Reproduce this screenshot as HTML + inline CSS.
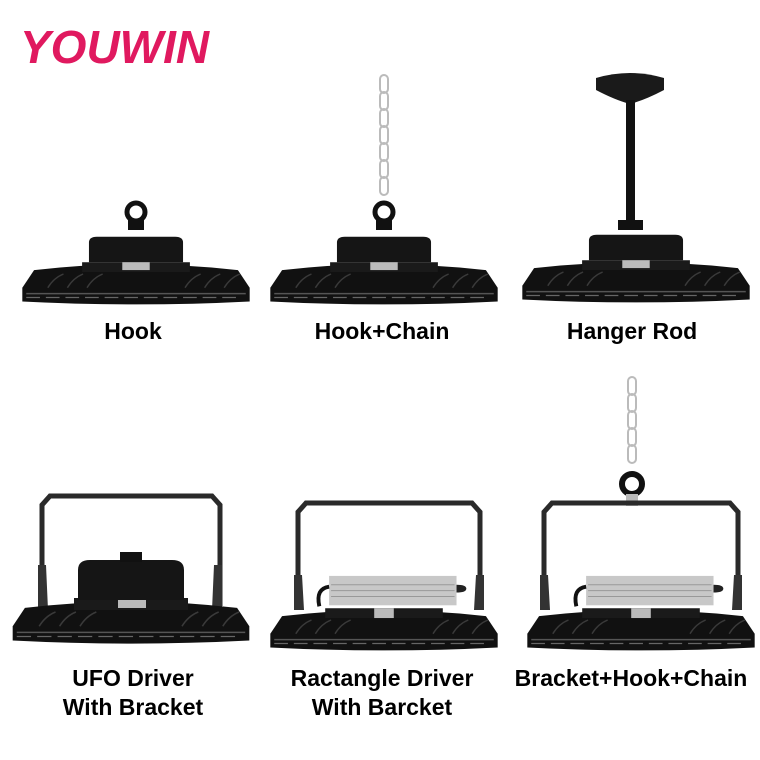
<!DOCTYPE html>
<html><head><meta charset="utf-8"><style>
body{margin:0;background:#fff}
svg{display:block}
text{font-family:"Liberation Sans",sans-serif;font-weight:bold}
</style></head><body>
<svg width="760" height="760" viewBox="0 0 760 760">
<defs>
<g id="disc">
  <path d="M-104,-4 Q0,-16 104,-4 L116,14 L116,28 Q0,34 -116,28 L-116,14 Z" fill="#111"/>
  <path d="M-112,20 L112,20" stroke="#555" stroke-width="1.5"/>
  <g stroke="#666" stroke-width="1.2">
    <path d="M-112,24 h14 M-92,24 h14 M-72,24 h14 M-52,24 h14 M-32,24 h14 M-12,24 h14 M8,24 h14 M28,24 h14 M48,24 h14 M68,24 h14 M88,24 h14"/>
  </g>
  <g stroke="#3a3a3a" stroke-width="1.5" fill="none">
    <path d="M-90,14 q6,-10 16,-14 M-70,14 q6,-10 16,-14 M-50,14 q6,-10 16,-14 M50,14 q6,-10 16,-14 M70,14 q6,-10 16,-14 M90,14 q6,-10 16,-14"/>
  </g>
</g>
<g id="lamp">
  <use href="#disc"/>
  <rect x="-55" y="-12" width="110" height="10" fill="#1a1a1a"/>
  <path d="M-48,-12 L-48,-32 Q-48,-38 -40,-38 L40,-38 Q48,-38 48,-32 L48,-12 Z" fill="#151515"/>
  <rect x="-14" y="-12" width="28" height="8" fill="#bbb"/>
</g>
<g id="rdrv">
  <use href="#disc"/>
  <rect x="-60" y="-12" width="120" height="10" fill="#1a1a1a"/>
  <rect x="-10" y="-12" width="20" height="10" fill="#bbb"/>
  <rect x="-56" y="-45" width="130" height="30" fill="#c8c8c8"/>
  <path d="M-54,-36 h126 M-54,-30 h126 M-54,-24 h126" stroke="#999" stroke-width="1"/>
  <path d="M-66,-14 Q-70,-32 -56,-34" fill="none" stroke="#111" stroke-width="4"/>
  <path d="M74,-36 q10,0 10,4 q0,4 -10,4" fill="#222"/>
</g>
</defs>

<text x="20" y="63" font-size="46" font-style="italic" fill="#e0195f">YOUWIN</text>

<circle cx="136" cy="212" r="9" fill="none" stroke="#111" stroke-width="5"/>
<rect x="128" y="220" width="16" height="10" fill="#111"/>
<use href="#lamp" transform="translate(136,274) scale(0.98)"/>

<g fill="none" stroke="#bbb" stroke-width="2">
  <rect x="380" y="75" width="8" height="18" rx="4"/><rect x="380" y="92" width="8" height="18" rx="4"/>
  <rect x="380" y="109" width="8" height="18" rx="4"/><rect x="380" y="126" width="8" height="18" rx="4"/>
  <rect x="380" y="143" width="8" height="18" rx="4"/><rect x="380" y="160" width="8" height="18" rx="4"/>
  <rect x="380" y="177" width="8" height="18" rx="4"/>
</g>
<circle cx="384" cy="212" r="9" fill="none" stroke="#111" stroke-width="5"/>
<rect x="376" y="220" width="16" height="10" fill="#111"/>
<use href="#lamp" transform="translate(384,274) scale(0.98)"/>

<path d="M596,78 Q630,68 664,78 L664,90 Q645,100 630,104 Q615,100 596,90 Z" fill="#1a1a1a"/>
<rect x="626" y="100" width="9" height="124" fill="#111"/>
<rect x="618" y="220" width="25" height="10" fill="#111"/>
<use href="#lamp" transform="translate(636,272) scale(0.98)"/>

<text x="133" y="339" font-size="23" text-anchor="middle">Hook</text>
<text x="382" y="339" font-size="23" text-anchor="middle">Hook+Chain</text>
<text x="632" y="339" font-size="23" text-anchor="middle">Hanger Rod</text>

<path d="M42,606 L42,505 L50,496 L212,496 L220,505 L220,606" fill="none" stroke="#2a2a2a" stroke-width="5"/>
<path d="M38,565 l8,0 l2,45 l-10,0 Z M214,565 l8,0 l0,45 l-10,0 Z" fill="#333"/>
<use href="#disc" transform="translate(131,612) scale(1.02)"/>
<rect x="74" y="598" width="114" height="12" fill="#1a1a1a"/>
<path d="M78,600 L78,570 Q78,560 90,560 L172,560 Q184,560 184,570 L184,600 Z" fill="#151515"/>
<rect x="118" y="600" width="28" height="8" fill="#bbb"/>
<rect x="120" y="552" width="22" height="10" fill="#111"/>

<path d="M298,606 L298,512 L306,503 L472,503 L480,512 L480,606" fill="none" stroke="#2a2a2a" stroke-width="5"/>
<path d="M294,575 l8,0 l2,35 l-10,0 Z M476,575 l8,0 l0,35 l-10,0 Z" fill="#333"/>
<use href="#rdrv" transform="translate(384,620) scale(0.98)"/>

<g fill="none" stroke="#bbb" stroke-width="2">
  <rect x="628" y="377" width="8" height="18" rx="4"/><rect x="628" y="394" width="8" height="18" rx="4"/>
  <rect x="628" y="411" width="8" height="18" rx="4"/><rect x="628" y="428" width="8" height="18" rx="4"/>
  <rect x="628" y="445" width="8" height="18" rx="4"/>
</g>
<circle cx="632" cy="484" r="10" fill="none" stroke="#111" stroke-width="6"/>
<rect x="626" y="494" width="12" height="12" fill="#bbb"/>
<path d="M544,606 L544,512 L552,503 L730,503 L738,512 L738,606" fill="none" stroke="#2a2a2a" stroke-width="5"/>
<path d="M540,575 l8,0 l2,35 l-10,0 Z M734,575 l8,0 l0,35 l-10,0 Z" fill="#333"/>
<use href="#rdrv" transform="translate(641,620) scale(0.98)"/>

<text x="133" y="686" font-size="23" text-anchor="middle">UFO Driver</text>
<text x="133" y="715" font-size="23" text-anchor="middle">With Bracket</text>
<text x="382" y="686" font-size="23" text-anchor="middle">Ractangle Driver</text>
<text x="382" y="715" font-size="23" text-anchor="middle">With Barcket</text>
<text x="631" y="686" font-size="23" text-anchor="middle">Bracket+Hook+Chain</text>
</svg>
</body></html>
